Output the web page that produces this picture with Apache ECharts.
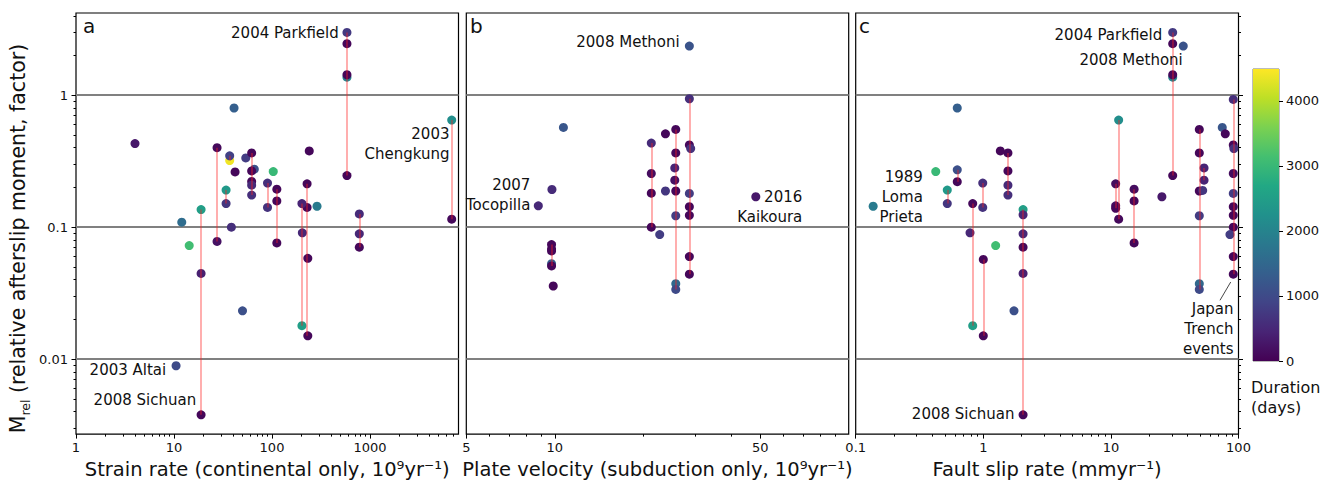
<!DOCTYPE html>
<html><head><meta charset="utf-8">
<script src="https://cdn.jsdelivr.net/npm/echarts@6/dist/echarts.min.js"></script>
<style>html,body{margin:0;padding:0;background:#fff}#c{width:1325px;height:484px}</style>
</head><body><div id="c"></div>
<script>
// ---------- data ----------
const strainX = [4.0,27.5,27.5,37,37,41,54,42,66,62,62,62,62,62,103,90,90,112,112,112,240,228,228,232,232,202,204,202,288,582,582,582,582,582,778,778,778,6820,6820,34,34,38.5,18.9,18.9,18.9,12.0,14.3,50,10.5];
const strainY = [0.43,0.40,0.078,0.32,0.347,0.80,0.335,0.262,0.275,0.365,0.267,0.222,0.208,0.175,0.264,0.216,0.141,0.194,0.158,0.076,0.378,0.213,0.141,0.058,0.015,0.151,0.0905,0.0179,0.144,2.99,2.46,1.37,1.43,0.246,0.126,0.089,0.0705,0.648,0.115,0.191,0.151,0.1,0.136,0.0446,0.00378,0.109,0.0725,0.0232,0.0089];
const strainDur = [300,100,200,4400,850,1350,800,80,1100,80,80,100,550,600,3000,600,650,80,80,80,80,80,80,80,80,450,500,2500,1850,750,80,2000,80,80,550,500,100,2200,100,2400,700,600,2500,400,80,1600,3100,1100,1000];
const strainGroup = [0,1,1,2,2,0,0,0,0,3,3,3,3,3,0,4,4,5,5,5,0,6,6,6,6,7,7,7,0,8,8,8,8,8,9,9,9,10,10,11,11,0,12,12,12,0,0,0,0];

const plateX = [28.7,28.7,28.7,29.0,28.7,28.7,28.7,28.7,28.7,10.7,21.3,21.3,21.3,21.3,23.8,25.8,25.8,25.6,25.6,25.8,25.8,25.8,25.8,23.8,22.75,8.79,9.78,48.3,9.75,9.75,9.75,9.75,9.75,9.88];
const plateY = [2.36,0.94,0.42,0.394,0.18,0.143,0.123,0.0598,0.044,0.57,0.434,0.255,0.181,0.1,0.51,0.55,0.365,0.281,0.227,0.188,0.122,0.0373,0.0337,0.188,0.0878,0.145,0.193,0.17,0.0738,0.0683,0.066,0.0528,0.0508,0.0358];
const plateDur = [1150,600,100,650,800,80,80,80,80,1200,550,150,80,80,80,80,80,450,200,80,800,1500,1000,700,800,500,550,300,80,80,80,1300,80,80];
const plateGroup = [0,1,1,1,1,1,1,1,1,0,2,2,2,2,0,3,3,3,3,3,3,3,3,0,0,0,0,0,4,4,4,4,4,0];

const slipX = [30.5,30.5,30.5,30.5,30.5,36.9,0.625,11.5,11.5,10.9,10.9,10.9,15.2,15.2,15.2,25.1,49.3,49.3,49.3,49.3,49.3,49.3,53.7,53.7,52.4,74.6,78.8,91,91,92,91,91,91,91,91,91,91,85.7,0.137,0.424,0.625,0.625,0.522,0.522,0.826,0.787,0.826,0.99,0.99,1.36,1.56,1.56,1.56,1.56,2.05,2.05,2.05,2.05,2.05,2.05,1.25,1.0,1.0,1.74];
const slipY = [2.99,2.46,1.37,1.43,0.246,2.36,0.80,0.648,0.115,0.213,0.145,0.139,0.194,0.158,0.076,0.17,0.55,0.365,0.188,0.122,0.0373,0.0337,0.281,0.227,0.19,0.57,0.51,0.93,0.42,0.394,0.255,0.18,0.143,0.123,0.1,0.0598,0.044,0.0878,0.144,0.264,0.272,0.221,0.191,0.151,0.151,0.0905,0.0179,0.216,0.141,0.378,0.365,0.267,0.208,0.175,0.136,0.124,0.089,0.0705,0.0446,0.00378,0.0725,0.0569,0.015,0.0232];
const slipDur = [750,80,2000,80,80,1150,1350,2200,100,150,150,80,150,80,80,300,80,80,80,800,1500,1000,450,450,700,1200,80,600,100,650,150,800,80,80,80,80,80,800,1850,3000,1100,80,2400,700,100,500,2500,600,650,80,80,80,550,600,2500,500,500,100,400,80,3100,80,80,1100];
const slipGroup = [1,1,1,1,1,0,0,2,2,3,3,3,4,4,4,0,5,5,5,5,5,5,6,6,0,0,0,7,7,7,7,7,7,7,7,7,7,0,0,0,8,8,9,9,10,10,10,11,11,0,12,12,12,12,13,13,13,13,13,13,0,14,14,0];

// axis ranges and ticks
const strainRange = [1, 8000];
const plateRange = [5, 100];
const slipRange = [0.1, 100];
const mrelRange = [0.0027, 4.2];
const durationRange = [0, 4490];
const strainTicks = [1, 10, 100, 1000];
const plateTicks = [5, 10, 50];
const slipTicks = [0.1, 1, 10, 100];
const mrelTicks = [0.01, 0.1, 1];
const durationTicks = [0, 1000, 2000, 3000, 4000];
const refLevels = [1, 0.1, 0.01];

// annotations: [x, y, text]
const strainNotes = [[486, 2.96, '2004 Parkfield'], [6550, 0.427, '2003\nChengkung'], [8.43, 0.00826, '2003 Altai'], [17.05, 0.0049, '2008 Sichuan']];
const plateNotes = [[26.7, 2.53, '2008 Methoni'], [8.29, 0.174, '2007\nTocopilla'], [69.8, 0.142, '2016\nKaikoura']];
const slipNotes = [[25.5, 2.87, '2004 Parkfield'], [36.9, 1.86, '2008 Methoni'], [0.339, 0.17, '1989\nLoma\nPrieta'], [1.77, 0.00383, '2008 Sichuan'], [92.3, 0.01705, 'Japan\nTrench\nevents']];
const japanLeader = [[71.6, 0.0279], [86.9, 0.0384]];

const viridis = ['#440154','#482475','#414487','#355f8d','#2a788e','#21918c','#22a884','#44bf70','#7ad151','#bddf26','#fde725'];

// ---------- helpers ----------
const FONT = 'DejaVu Sans';
const TXT = '#111';
const fmt = v => String(+(+v).toPrecision(6));
function minorTicks(lo, hi) {
  const out = [];
  for (let e = Math.floor(Math.log10(lo)); e <= Math.ceil(Math.log10(hi)); e++) {
    for (let m = 2; m <= 9; m++) {
      const v = +(m * Math.pow(10, e)).toPrecision(6);
      if (v > lo * 1.0001 && v < hi * 0.9999) out.push(v);
    }
  }
  return out;
}
function pts(xs, ys, ds) { return xs.map((x, i) => [x, ys[i], ds[i]]); }
function groupLines(xs, ys, gs) {
  const m = new Map();
  gs.forEach((g, i) => {
    if (!g) return;
    if (!m.has(g)) m.set(g, {x: xs[i], lo: ys[i], hi: ys[i]});
    else { const o = m.get(g); o.lo = Math.min(o.lo, ys[i]); o.hi = Math.max(o.hi, ys[i]); }
  });
  return [...m.values()].map(o => ({coords: [[o.x, o.lo], [o.x, o.hi]]}));
}
function refLines(xr) { return refLevels.map(l => ({coords: [[xr[0], l], [xr[1], l]]})); }

const tickStyle = {color: '#000', width: 1};
function xMajor(grid, range, ticks, name) {
  return {
    type: 'log', gridIndex: grid, min: range[0], max: range[1], position: 'bottom',
    axisLine: {show: false}, splitLine: {show: false},
    axisTick: {show: true, length: 4.5, customValues: ticks, lineStyle: tickStyle},
    axisLabel: {show: true, customValues: ticks, formatter: fmt, fontFamily: FONT, fontSize: 13, color: TXT, margin: 7},
    name: name, nameLocation: 'middle', nameGap: 22,
    nameTextStyle: {fontFamily: FONT, fontSize: 19.5, color: TXT}
  };
}
function xMinor(grid, range) {
  return {
    type: 'log', gridIndex: grid, min: range[0], max: range[1], position: 'bottom',
    axisLine: {show: false}, splitLine: {show: false},
    axisTick: {show: true, length: 2.5, customValues: minorTicks(range[0], range[1]), lineStyle: tickStyle},
    axisLabel: {show: false}
  };
}
function yAxisFor(grid, pos, ticksOn, labelsOn, minor, name) {
  const o = {
    type: 'log', gridIndex: grid, min: mrelRange[0], max: mrelRange[1], position: pos,
    axisLine: {show: false}, splitLine: {show: false},
    axisTick: {show: ticksOn, length: minor ? 2.5 : 4.5, customValues: minor ? minorTicks(mrelRange[0], mrelRange[1]) : mrelTicks, lineStyle: tickStyle},
    axisLabel: {show: labelsOn, customValues: mrelTicks, formatter: fmt, fontFamily: FONT, fontSize: 13, color: TXT, margin: 8}
  };
  if (name) {
    o.name = name; o.nameLocation = 'middle'; o.nameGap = 44;
    o.nameTextStyle = {fontFamily: FONT, fontSize: 20.5, color: TXT, padding: [0, 30, 0, 0],
      rich: {
        m: {fontFamily: FONT, fontSize: 20.5, color: TXT, verticalAlign: 'bottom', padding: [0, 0, 4, 0]},
        s: {fontFamily: FONT, fontSize: 12.5, color: TXT, verticalAlign: 'bottom'}
      }};
  }
  return o;
}

const grids = [
  {left: 76, top: 13, width: 382.5, height: 423},
  {left: 466.3, top: 13, width: 382.4, height: 423},
  {left: 855.7, top: 13, width: 382.8, height: 423},
  {left: 1253, top: 69, width: 26, height: 292}
].map((g, i) => Object.assign({show: true, borderColor: i === 3 ? '#555' : '#000', borderWidth: i === 3 ? 0.8 : 1.2, backgroundColor: 'transparent', containLabel: false}, g));

const xAxes = [
  xMajor(0, strainRange, strainTicks, 'Strain rate (continental only, 10\u2079yr\u207B\u00B9)'),
  xMinor(0, strainRange),
  xMajor(1, plateRange, plateTicks, 'Plate velocity (subduction only, 10\u2079yr\u207B\u00B9)'),
  xMinor(1, plateRange),
  xMajor(2, slipRange, slipTicks, 'Fault slip rate (mmyr\u207B\u00B9)'),
  xMinor(2, slipRange),
  {type: 'category', gridIndex: 3, data: [''], show: false}
];
const yAxes = [
  yAxisFor(0, 'left', true, true, false, '{m|M}{s|rel}{m| (relative afterslip moment, factor)}'),
  yAxisFor(0, 'left', true, false, true),
  yAxisFor(1, 'left', false, false, false),
  yAxisFor(2, 'right', true, false, false),
  yAxisFor(2, 'right', true, false, true),
  {type: 'value', gridIndex: 3, min: durationRange[0], max: durationRange[1], position: 'right',
   axisLine: {show: false}, splitLine: {show: false},
   axisTick: {show: true, length: 4, customValues: durationTicks, lineStyle: tickStyle},
   axisLabel: {show: true, customValues: durationTicks, formatter: fmt, fontFamily: FONT, fontSize: 13, color: TXT, margin: 7}}
];

const panels = [
  {xs: strainX, ys: strainY, ds: strainDur, gs: strainGroup, xr: strainRange, notes: strainNotes, xi: 0, yi: 0},
  {xs: plateX, ys: plateY, ds: plateDur, gs: plateGroup, xr: plateRange, notes: plateNotes, xi: 2, yi: 2},
  {xs: slipX, ys: slipY, ds: slipDur, gs: slipGroup, xr: slipRange, notes: slipNotes, xi: 4, yi: 3}
];

const series = [];
panels.forEach(p => {
  series.push({type: 'scatter', xAxisIndex: p.xi, yAxisIndex: p.yi, symbolSize: 9, z: 2,
    itemStyle: {opacity: 1}, data: pts(p.xs, p.ys, p.ds), silent: true});
});
panels.forEach(p => {
  series.push({type: 'lines', coordinateSystem: 'cartesian2d', xAxisIndex: p.xi, yAxisIndex: p.yi, z: 3, silent: true,
    symbol: 'none', lineStyle: {color: 'rgba(255,30,30,0.45)', width: 1.6, opacity: 1}, data: groupLines(p.xs, p.ys, p.gs)});
  series.push({type: 'lines', coordinateSystem: 'cartesian2d', xAxisIndex: p.xi, yAxisIndex: p.yi, z: 1, silent: true,
    symbol: 'none', lineStyle: {color: '#808080', width: 2, opacity: 1}, data: refLines(p.xr)});
  series.push({type: 'scatter', xAxisIndex: p.xi, yAxisIndex: p.yi, symbolSize: 1, z: 4, silent: true,
    itemStyle: {color: 'rgba(0,0,0,0)', opacity: 1},
    label: {show: true, position: 'left', distance: 0, formatter: q => q.data[2], fontFamily: FONT, fontSize: 15, lineHeight: 20, color: TXT, opacity: 1, align: 'right'},
    data: p.notes});
});
series.push({type: 'lines', coordinateSystem: 'cartesian2d', xAxisIndex: 4, yAxisIndex: 3, z: 4, silent: true,
  symbol: 'none', lineStyle: {color: '#333', width: 0.9, opacity: 1}, data: [{coords: japanLeader}]});
series.push({type: 'bar', xAxisIndex: 6, yAxisIndex: 5, barWidth: '100%', silent: true, z: 1,
  itemStyle: {color: {type: 'linear', x: 0, y: 1, x2: 0, y2: 0,
    colorStops: viridis.map((c, i) => ({offset: i / (viridis.length - 1), color: c}))}},
  data: [durationRange[1]]});

const option = {
  animation: false,
  backgroundColor: '#fff',
  grid: grids,
  xAxis: xAxes,
  yAxis: yAxes,
  visualMap: [{type: 'continuous', show: false, dimension: 2, seriesIndex: [0, 1, 2],
    min: durationRange[0], max: durationRange[1], inRange: {color: viridis}}],
  graphic: [
    {type: 'text', left: 83, top: 16, style: {text: 'a', font: '20px "DejaVu Sans"', fill: TXT}},
    {type: 'text', left: 470, top: 16, style: {text: 'b', font: '20px "DejaVu Sans"', fill: TXT}},
    {type: 'text', left: 859, top: 16, style: {text: 'c', font: '20px "DejaVu Sans"', fill: TXT}},
    {type: 'text', left: 1251, top: 377, style: {text: 'Duration\n(days)', font: '16px "DejaVu Sans"', lineHeight: 20, fill: TXT}}
  ],
  series: series
};
const chart = echarts.init(document.getElementById('c'), null, {renderer: 'svg'});
chart.setOption(option);
</script></body></html>
